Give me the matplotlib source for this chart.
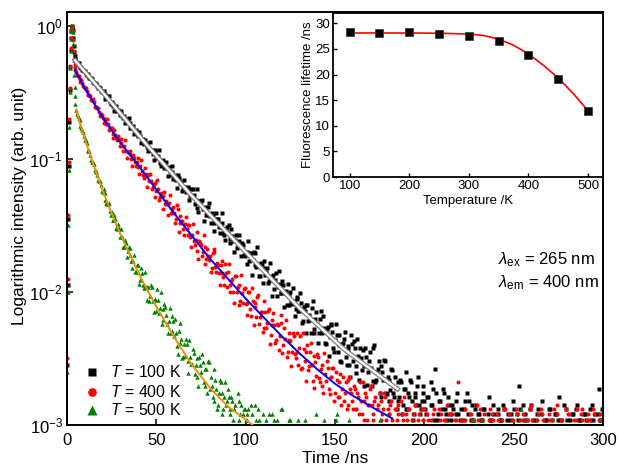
import numpy as np
import matplotlib
matplotlib.use("Agg")
import matplotlib.pyplot as plt
import matplotlib.patheffects as pe
from matplotlib.ticker import NullLocator

plt.rcParams['font.family'] = ['Liberation Sans', 'DejaVu Sans']
plt.rcParams['mathtext.fontset'] = 'custom'
plt.rcParams['mathtext.rm'] = 'Liberation Sans'
plt.rcParams['mathtext.it'] = 'Liberation Sans:italic'
plt.rcParams['mathtext.bf'] = 'Liberation Sans:bold'

# ---------------- data (log10 of normalised intensity) ----------------
# rise / peak region, channels 0 .. 4.75 ns every 0.25 ns
early_time_ns = np.arange(0, 5, 0.25)
log_i_100K_early = [-3.30, -2.55, -1.95, -1.45, -1.05, -0.72, -0.48, -0.31, -0.18, -0.09,
                    -0.04, -0.01, 0.00, -0.03, -0.09, -0.15, -0.20, -0.23, -0.25, -0.26]
log_i_400K_early = [-3.20, -2.50, -1.90, -1.42, -1.02, -0.70, -0.47, -0.30, -0.17, -0.09,
                    -0.03, -0.01, 0.00, -0.04, -0.11, -0.19, -0.25, -0.29, -0.31, -0.33]
log_i_500K_early = [-3.25, -2.60, -2.00, -1.50, -1.08, -0.76, -0.50, -0.32, -0.19, -0.10,
                    -0.04, -0.01, 0.00, -0.05, -0.14, -0.26, -0.37, -0.46, -0.53, -0.59]

# decay region, channels 5, 6, ..., 300 ns
log_i_100K = [
    -0.27, -0.28, -0.31, -0.32, -0.33, -0.34, -0.37, -0.38, -0.39, -0.40, -0.43, -0.44, -0.45, -0.46, -0.49, -0.50,
    -0.51, -0.54, -0.54, -0.57, -0.57, -0.60, -0.61, -0.64, -0.64, -0.66, -0.68, -0.68, -0.72, -0.72, -0.73, -0.77,
    -0.75, -0.79, -0.80, -0.83, -0.83, -0.85, -0.89, -0.88, -0.89,
    -0.93, -0.93, -0.96, -0.93, -0.98, -0.98, -1.03, -1.02, -1.02, -1.06, -1.07, -1.06, -1.12, -1.10, -1.13, -1.16,
    -1.12, -1.18, -1.18, -1.23, -1.21, -1.24, -1.22, -1.28, -1.28,
    -1.27, -1.31, -1.37, -1.32, -1.32, -1.38, -1.37, -1.42, -1.36, -1.43, -1.41, -1.48, -1.45, -1.45, -1.51,
    -1.51, -1.48, -1.57, -1.53, -1.56, -1.60, -1.53, -1.62, -1.61, -1.67, -1.62, -1.66, -1.63, -1.72, -1.70,
    -1.70, -1.77, -1.71, -1.76, -1.71, -1.81, -1.79, -1.88, -1.79, -1.82, -1.87, -1.82, -1.92, -1.90, -1.89,
    -1.98, -1.86, -1.96, -1.94, -2.01, -1.95, -2.01, -2.10, -2.02, -2.00, -2.09, -2.07, -2.13, -2.04, -2.14,
    -2.08, -2.22, -2.14, -2.10, -2.22, -2.21, -2.12, -2.31, -2.20, -2.24, -2.31, -2.14, -2.31, -2.27, -2.39,
    -2.26, -2.34, -2.25, -2.42, -2.36, -2.32, -2.40, -2.52, -2.39, -2.35,
    -2.49, -2.43, -2.55, -2.32, -2.52, -2.42, -2.61, -2.48, -2.42, -2.59, -2.56, -2.42, -2.70, -2.52, -2.57,
    -2.67, -2.40, -2.66, -2.58, -2.76, -2.56, -2.66, -2.52, -2.77, -2.66, -2.74, -2.59, -2.79, -2.72, -2.68,
    -2.79, -2.68, -2.85, -2.73, -2.88, -2.76, -2.66, -2.82, -2.92, -2.79, -2.71, -2.85, -2.88, -2.76, -2.82,
    -2.92, -2.79, -3.01, -2.85, -2.73, -2.58, -2.96, -2.82, -3.06, -2.88, -2.76, -2.92, -3.01, -2.85, -2.96,
    -2.88, -3.12, -2.82, -2.92, -2.96,
    -3.01, -2.88, -3.06, -2.76, -2.82, -2.96, -3.12, -3.01, -2.85, -2.92, -3.06, -2.96, -2.88, -3.19, -3.01,
    -2.79, -2.96, -3.06, -2.92, -3.01, -2.88, -3.12, -2.96, -2.85, -3.06, -3.01, -2.92, -2.96, -3.19, -2.88,
    -3.06, -2.92, -2.71, -3.12, -2.85, -2.96, -3.06, -3.01, -2.88, -3.19, -2.96, -3.06, -2.92, -3.01, -3.12,
    -2.82, -3.01, -2.96, -3.06, -2.88, -3.12, -3.01, -2.92, -3.06, -2.96, -3.19, -3.01, -2.85, -3.06, -2.96,
    -3.01, -3.12, -2.92, -3.06, -2.88, -3.01, -2.96, -3.19, -3.06, -2.92, -3.01, -3.12, -2.96, -2.85, -3.06,
    -3.01, -2.92, -2.73, -2.96, -2.88,
]
# interleaved channels 5.5, 6.5, ..., 299.5 ns
log_i_100K_b = [
    -0.29, -0.28, -0.31, -0.33, -0.34, -0.36, -0.36, -0.39, -0.39, -0.42, -0.43, -0.44, -0.47, -0.47, -0.50,
    -0.49, -0.55, -0.53, -0.53, -0.59, -0.59, -0.64, -0.60, -0.63, -0.67, -0.64, -0.69, -0.73, -0.70, -0.69,
    -0.77, -0.76, -0.81, -0.78, -0.82, -0.80, -0.88, -0.85, -0.86, -0.91,
    -0.94, -0.87, -0.93, -1.01, -0.94, -0.99, -0.93, -1.05, -1.01, -1.07, -1.02, -1.13, -1.09, -1.05, -1.15,
    -1.12, -1.22, -1.14, -1.17, -1.24, -1.16, -1.25, -1.21, -1.31, -1.23,
    -1.23, -1.34, -1.23, -1.40, -1.32, -1.31, -1.47, -1.36, -1.42, -1.33, -1.48, -1.43, -1.54, -1.41, -1.45,
    -1.56, -1.41, -1.56, -1.61, -1.51, -1.50, -1.63, -1.58, -1.70, -1.57, -1.65, -1.57, -1.73, -1.65, -1.73,
    -1.79, -1.62, -1.71, -1.87, -1.70, -1.80, -1.66, -1.88, -1.78, -1.93, -1.77, -1.85, -1.93, -1.78, -2.03,
    -1.87, -1.91, -2.03, -1.84, -2.01, -1.92, -2.11, -1.99, -1.94, -2.10, -2.07, -1.97, -2.18, -2.05, -2.14,
    -2.01, -2.23, -2.11, -2.31, -2.10, -2.17, -2.31, -2.07, -2.28, -2.15, -2.38, -2.20, -2.30, -2.18, -2.38,
    -2.28, -2.48, -2.24, -2.30, -2.45, -2.24, -2.45, -2.32, -2.53, -2.38,
    -2.30, -2.55, -2.41, -2.64, -2.39, -2.37, -2.56, -2.35, -2.66, -2.50, -2.44, -2.71, -2.49, -2.60, -2.45,
    -2.71, -2.42, -2.68, -2.60, -2.52, -2.79, -2.60, -2.51, -2.76, -2.64, -2.82, -2.58, -2.76, -2.64, -2.88,
    -2.82, -2.66, -2.92, -2.73, -2.60, -2.88, -2.79, -2.68, -2.96, -2.76, -2.85, -2.64, -2.92, -2.82, -2.71,
    -2.88, -2.79, -3.01, -2.68, -2.85, -2.96, -2.76, -2.92, -2.82, -3.06, -2.73, -2.88, -2.96, -2.79, -2.92,
    -2.85, -3.01, -2.92, -2.76, -3.06, -2.88, -2.96, -2.82, -3.01, -2.92, -3.12, -2.85, -2.96, -2.88, -3.06, -2.92,
    -2.96, -3.06, -2.88, -3.01, -2.92, -3.12, -2.96, -2.85, -3.01, -3.06,
    -2.92, -2.96, -3.19, -2.88, -3.01, -2.96, -3.06, -2.92, -2.82, -3.01,
    -3.12, -2.96, -2.88, -3.06, -3.01, -2.92, -2.96, -3.12, -2.85, -3.01,
    -3.06, -2.96, -2.88, -3.01, -2.92, -3.06, -2.96, -3.12, -3.01, -2.88,
    -2.96, -3.06, -2.92, -3.01, -2.79, -2.96, -3.06, -3.01, -2.88, -3.12,
    -2.96, -2.92, -3.01, -3.06, -2.85, -2.96, -3.01, -3.12, -2.92, -2.96,
    -3.06, -2.88, -3.01, -2.96, -2.92, -3.06, -3.01, -2.96, -2.88,
]
log_i_400K = [
    -0.35, -0.38, -0.40, -0.41, -0.45, -0.47,
    -0.49, -0.52, -0.53, -0.56, -0.57, -0.61, -0.62, -0.65, -0.66, -0.69,
    -0.71, -0.74, -0.74, -0.77, -0.77, -0.81, -0.82, -0.86, -0.85, -0.88,
    -0.90, -0.90, -0.94, -0.95, -0.96, -1.00, -0.97, -1.02, -1.02, -1.06,
    -1.05, -1.09, -1.14, -1.11, -1.12, -1.17, -1.17, -1.21, -1.18, -1.24,
    -1.23, -1.29, -1.28, -1.28, -1.34, -1.34, -1.33, -1.41, -1.38, -1.41,
    -1.45, -1.38, -1.48, -1.47, -1.53, -1.49, -1.53, -1.50, -1.59, -1.57,
    -1.62, -1.61, -1.69, -1.62, -1.65, -1.70, -1.66, -1.75, -1.73, -1.73,
    -1.82, -1.70, -1.81, -1.78, -1.86, -1.80, -1.86, -1.95, -1.86, -1.85,
    -1.95, -1.92, -2.00, -1.88, -2.00, -1.95, -2.07, -2.01, -1.98, -2.09,
    -2.08, -2.00, -2.18, -2.07, -2.11, -2.19, -2.02, -2.19, -2.15, -2.27,
    -2.15, -2.23, -2.13, -2.32, -2.25, -2.25, -2.36, -2.25, -2.33, -2.23,
    -2.40, -2.35, -2.49, -2.31, -2.37, -2.45, -2.33, -2.50, -2.45, -2.42,
    -2.58, -2.31, -2.52, -2.45, -2.59, -2.45, -2.55, -2.72, -2.53, -2.47,
    -2.65, -2.58, -2.71, -2.46, -2.67, -2.57, -2.77, -2.64, -2.57, -2.76,
    -2.66, -2.79, -2.62, -2.73, -2.82, -2.68, -2.85, -2.64, -2.76, -2.88,
    -2.73, -2.88, -2.79, -2.68, -2.92, -2.82, -2.76, -2.96, -2.85, -2.71,
    -2.92, -2.82, -3.01, -2.85, -2.76, -2.96, -2.88, -2.79, -3.01, -2.92,
    -2.85, -2.96, -3.06, -2.88, -2.92, -3.01, -2.82, -2.96, -3.12, -2.92,
    -2.88, -3.01, -2.96, -3.06, -2.85, -3.01, -2.92, -3.12, -2.96, -2.88,
    -3.06, -2.96, -3.12, -3.01, -2.92, -3.19, -3.06, -2.88, -3.01, -3.12,
    -2.96, -3.06, -3.19, -2.92, -3.01, -3.06, -2.96, -3.12, -2.68, -3.01,
    -3.06, -3.19, -2.96, -3.01, -3.12, -2.92, -3.06, -3.01, -3.19, -2.96,
    -2.88, -3.12, -3.06, -3.01, -3.27, -2.96, -3.06, -2.92, -3.12, -3.01,
    -2.96, -3.19, -3.06, -3.01, -2.88, -3.12, -3.01, -3.06, -2.96, -3.19,
    -3.12, -2.92, -3.01, -3.06, -2.96, -3.27, -3.01, -3.12, -2.88, -3.06,
    -3.01, -3.12, -2.96, -3.06, -3.19, -2.92, -3.01, -3.06, -3.12, -2.96,
    -3.01, -3.19, -3.06, -2.85, -3.12, -3.01, -2.96, -3.06, -3.19, -3.01,
    -2.92, -3.06, -3.12, -3.01, -2.96, -3.19, -3.06, -2.88, -3.01, -3.12,
    -2.96, -3.06, -3.01, -3.19, -2.92, -3.06, -3.01, -3.12, -2.96, -3.01,
]
log_i_400K_b = [
    -0.37, -0.38, -0.42, -0.43, -0.46,
    -0.47, -0.52, -0.52, -0.56, -0.55, -0.61, -0.61, -0.62, -0.68, -0.67,
    -0.73, -0.70, -0.70, -0.78, -0.77, -0.84, -0.78, -0.84, -0.83, -0.90,
    -0.85, -0.94, -0.86, -0.99, -0.95, -0.94, -1.05, -0.99, -1.05, -0.99,
    -1.11, -1.01, -1.12, -1.07, -1.21, -1.12, -1.11, -1.23, -1.19, -1.29,
    -1.16, -1.31, -1.26, -1.38, -1.25, -1.32, -1.42, -1.27, -1.41, -1.36,
    -1.48, -1.35, -1.55, -1.43, -1.47, -1.57, -1.44, -1.57, -1.50, -1.66,
    -1.49, -1.65, -1.55, -1.75, -1.63, -1.73, -1.57, -1.79, -1.68, -1.76,
    -1.85, -1.71, -1.68, -1.85, -1.80, -1.95, -1.77, -1.89, -1.79, -1.96,
    -1.79, -2.00, -1.90, -2.08, -1.88, -1.96, -2.10, -1.87, -2.08, -1.97,
    -2.17, -2.00, -2.13, -1.97, -2.25, -2.08, -2.04, -2.24, -2.15, -2.30,
    -2.07, -2.27, -2.14, -2.39, -2.21, -2.16, -2.38, -2.24, -2.44, -2.17,
    -2.46, -2.27, -2.21, -2.45, -2.36, -2.56, -2.31, -2.47, -2.31, -2.55,
    -2.33, -2.57, -2.43, -2.67, -2.40, -2.56, -2.38, -2.67, -2.48, -2.63,
    -2.49, -2.68, -2.55, -2.76, -2.62, -2.52, -2.73, -2.64, -2.57, -2.82,
    -2.60, -2.79, -2.68, -2.85, -2.64, -2.76, -2.88, -2.66, -2.73, -2.82,
    -2.71, -2.88, -2.76, -2.92, -2.82, -2.68, -2.96, -2.79, -2.85, -2.73,
    -2.85, -2.96, -2.79, -2.88, -3.01, -2.82, -2.92, -2.76, -2.96, -2.88,
    -2.92, -2.82, -3.01, -2.88, -2.96, -2.85, -3.06, -2.92, -2.79, -3.01,
    -2.96, -2.88, -3.06, -2.92, -2.85, -3.01, -2.96, -3.12, -2.88, -2.96,
    -3.01, -2.92, -3.12, -2.96, -3.06, -2.88, -3.01, -3.19, -2.96, -2.92,
    -3.06, -2.96, -2.85, -3.12, -3.01, -2.92, -3.06, -2.96, -3.19, -3.01,
    -2.96, -3.06, -2.88, -3.01, -3.12, -2.92, -2.96, -3.06, -3.01, -2.85,
    -3.12, -3.01, -2.96, -2.92, -3.06, -3.19, -2.88, -3.01, -2.96, -3.06,
    -2.92, -3.01, -3.12, -2.96, -2.88, -3.06, -3.01, -2.92, -3.19, -2.96,
    -3.01, -2.88, -3.06, -2.96, -3.12, -2.92, -3.01, -2.96, -3.06, -2.85,
    -2.96, -3.12, -3.01, -2.92, -3.06, -2.88, -2.96, -3.01, -3.19, -2.92,
    -3.06, -2.96, -2.88, -3.01, -2.92, -3.12, -2.96, -3.06, -3.01, -2.88,
    -2.92, -3.01, -3.06, -2.96, -3.12, -2.88, -3.01, -2.92, -2.96, -3.06,
    -3.01, -2.92, -2.96, -3.06, -2.88, -3.01, -3.12, -2.96, -2.92, -3.01,
]
log_i_500K = [
    -0.63, -0.68, -0.71, -0.77, -0.80, -0.86,
    -0.88, -0.94, -0.97, -1.02, -1.04,
    -1.10, -1.12, -1.17, -1.20, -1.25,
    -1.26, -1.33, -1.34, -1.39, -1.40,
    -1.46, -1.45, -1.53, -1.52, -1.58,
    -1.59, -1.66, -1.63, -1.69, -1.67, -1.77, -1.77, -1.85, -1.80, -1.85,
    -1.91, -1.86, -1.97, -1.96, -1.96, -2.07, -1.95, -2.07, -2.06, -2.14,
    -2.06, -2.12, -2.24, -2.13, -2.11, -2.24, -2.22, -2.31, -2.18, -2.33,
    -2.31, -2.47, -2.38, -2.35, -2.49, -2.48, -2.39, -2.61, -2.49, -2.54,
    -2.46, -2.55, -2.64, -2.49, -2.60, -2.53, -2.71, -2.58, -2.52, -2.73,
    -2.71, -2.82, -2.66, -2.88, -2.76, -2.68, -2.92, -2.79, -2.85, -2.73,
    -2.88, -2.79, -2.96, -2.85, -3.01, -2.82, -2.92, -3.06, -2.88, -2.96,
    -2.92, -3.06, -2.85, -3.01, -3.12, -2.96, -2.88, -3.06, -3.01, -3.19,
    -3.01, -3.12, -2.92, -3.19, -3.06, -2.96, -3.27, -3.01, -3.12, -2.88, -3.06, -3.19, -3.01, -3.12, -2.96,
    -3.12, -3.27, -3.01, -3.19, -3.06, -3.36, -3.12, -2.96, -3.19, -3.27, -3.06, -3.12, -3.01, -3.19, -3.27,
    -3.12, -3.06, -3.19, -2.96, -3.12, -3.27, -3.01, -3.19, -3.06, -3.12, -2.92, -3.19, -3.27, -3.01, -3.12,
    -3.19, -3.06, -2.96, -3.27, -3.12,
    -3.27, -3.12, -3.36, -3.19, -3.01, -3.27, -3.19, -3.49, -3.12, -3.27, -3.19, -3.06, -3.36, -3.27, -2.96,
    -3.19, -3.27, -3.12, -3.36, -3.19,
    -3.19, -3.36, -3.27, -3.06, -3.19, -3.49, -3.27, -3.12, -3.01, -3.27, -3.36, -3.19, -3.27, -3.12, -3.36,
    -3.19, -3.06, -3.27, -3.36, -3.19,
    -3.27, -3.12, -3.36, -3.19, -3.27, -3.49, -3.01, -3.19, -3.36, -3.27, -3.12, -3.27, -3.19, -3.36, -3.06,
    -3.27, -3.19, -3.49, -3.27, -3.12,
    -3.36, -3.19, -3.27, -3.12, -3.27, -3.36, -3.19, -2.96, -3.27, -3.19, -3.36, -3.12, -3.27, -3.49, -3.19,
    -3.27, -3.06, -3.36, -3.19, -3.27,
    -3.19, -3.36, -3.12, -3.27, -3.01, -3.27, -3.19, -3.36, -3.27, -3.12, -3.49, -3.19, -3.27, -2.88, -3.36,
    -3.19, -3.27, -3.12, -3.36, -3.27,
    -3.27, -3.12, -3.36, -3.19, -3.27, -3.06, -3.36, -3.01, -3.27, -3.19, -3.49, -3.12, -3.27, -3.36, -3.19,
    -3.27, -3.12, -3.36, -3.19, -3.27,
    -3.19, -3.36, -3.27, -3.12, -3.36, -3.19, -3.27, -3.06, -3.27, -3.49, -3.19, -3.36, -3.01, -3.27, -3.12,
    -3.36, -3.19, -3.27, -2.96, -3.19,
]
log_i_500K_b = [
    -0.66, -0.69, -0.75, -0.78, -0.83,
    -0.86, -0.93, -0.94, -1.01, -1.02,
    -1.08, -1.09, -1.16, -1.17, -1.24,
    -1.23, -1.31, -1.34, -1.33, -1.42,
    -1.46, -1.42, -1.52, -1.49, -1.59,
    -1.53, -1.66, -1.61, -1.74, -1.66, -1.72, -1.82, -1.72, -1.84, -1.80,
    -1.94, -1.82, -1.95, -1.85, -2.06, -1.96, -2.03, -1.96, -2.15, -2.05,
    -1.98, -2.16, -2.00, -2.21, -2.09, -2.17, -2.31, -2.12, -2.29, -2.22,
    -2.20, -2.41, -2.29, -2.23, -2.50, -2.39, -2.35, -2.52, -2.36, -2.54,
    -2.43, -2.62, -2.50, -2.71, -2.55, -2.47, -2.68, -2.58, -2.76, -2.53,
    -2.64, -2.79, -2.58, -2.73, -2.85, -2.66, -2.76, -2.88, -2.68, -2.82,
    -2.79, -2.92, -2.82, -2.88, -3.01, -2.76, -2.96, -2.85, -2.92, -2.88,
    -2.96, -2.88, -3.06, -2.92, -3.01, -2.85, -3.12, -2.96, -3.01, -2.92,
    -3.06, -2.96, -3.19, -3.01, -2.92, -3.12, -3.06, -2.96, -3.27, -3.01, -2.88, -3.12, -3.06, -3.19, -2.96,
    -3.12, -3.01, -3.27, -3.19, -2.96, -3.06, -3.36, -3.12, -3.19, -3.01, -3.27, -3.06, -3.12, -3.19, -2.92,
    -3.27, -3.12, -3.06, -3.19, -3.36, -3.01, -3.12, -3.27, -3.19, -3.06, -2.96, -3.19, -3.27, -3.12, -3.01,
    -3.36, -3.19, -3.06, -3.27, -3.12,
    -3.19, -3.36, -3.12, -3.27, -3.49, -3.19, -3.01, -3.27, -3.36, -3.19, -3.27, -3.12, -3.36, -3.19, -3.06,
    -3.27, -3.49, -3.19, -3.27, -3.12,
    -3.27, -3.19, -3.36, -3.06, -3.27, -3.12, -3.49, -3.19, -3.27, -3.36, -3.19, -3.01, -3.27, -3.12, -3.36,
    -3.27, -3.19, -3.49, -3.12, -3.27,
    -3.36, -3.19, -3.27, -3.12, -3.01, -3.36, -3.19, -3.27, -3.49, -3.19, -3.12, -3.27, -3.36, -3.06, -3.19,
    -3.27, -3.12, -3.36, -3.19, -3.27,
    -3.12, -3.27, -3.19, -3.36, -3.27, -3.06, -3.19, -3.49, -3.27, -3.12, -3.36, -3.19, -2.96, -3.27, -3.19,
    -3.36, -3.12, -3.27, -3.19, -3.36,
    -3.27, -3.12, -3.36, -3.19, -3.49, -3.27, -3.06, -3.19, -3.36, -3.12, -3.27, -3.01, -3.19, -3.36, -3.27,
    -3.12, -3.49, -3.19, -3.27, -3.06,
    -3.19, -3.36, -3.27, -3.12, -3.27, -3.19, -3.01, -3.36, -3.19, -3.27, -3.12, -3.49, -3.27, -3.19, -3.36,
    -3.06, -3.27, -3.12, -3.19, -3.36,
    -3.27, -3.19, -3.06, -3.36, -3.12, -3.27, -3.49, -3.19, -3.27, -3.01, -3.36, -3.19, -3.12, -3.27, -3.36,
    -3.19, -3.27, -3.06, -3.19, -3.27,
]

# fitted curves (log10 intensity)
fit_100K_t = [4.5, 20, 45, 70, 100, 130, 155, 185]
fit_100K_v = [-0.26, -0.50, -0.90, -1.28, -1.70, -2.12, -2.43, -2.73]
fit_400K_t = [4.5, 10, 20, 30, 40, 50, 60, 70, 80, 90, 100, 110, 120, 130, 140, 150, 160, 170, 182]
fit_400K_v = [-0.33, -0.47, -0.69, -0.88, -1.05, -1.23, -1.41, -1.58, -1.75, -1.90, -2.05,
              -2.19, -2.33, -2.46, -2.58, -2.69, -2.78, -2.86, -2.95]
fit_500K_t = [5, 10, 15, 20, 25, 30, 40, 50, 60, 70, 80, 90, 100, 104]
fit_500K_v = [-0.63, -0.85, -1.05, -1.24, -1.41, -1.57, -1.86, -2.11, -2.34, -2.55, -2.72,
              -2.86, -2.96, -3.00]

# inset: lifetime vs temperature
temperature_K = [100, 150, 200, 250, 300, 350, 400, 450, 500]
lifetime_ns = [28.3, 28.1, 28.2, 28.0, 27.6, 26.5, 23.9, 19.1, 12.8]
fit_temp_K = [100, 150, 200, 250, 300, 325, 350, 375, 400, 425, 450, 475, 500]
fit_lifetime = [28.1, 28.1, 28.1, 28.05, 27.9, 27.6, 26.9, 25.7, 24.0, 21.8, 19.3, 16.3, 12.9]

legend_labels = ['$T$ = 100 K', '$T$ = 400 K', '$T$ = 500 K']

# ---------------- figure ----------------
fig = plt.figure(figsize=(6.19, 4.68), dpi=100)
ax = fig.add_axes([67 / 619, 1 - 425 / 468, 536 / 619, 413 / 468])


def full_series(early, main, half):
    t = np.concatenate([early_time_ns,
                        5 + np.arange(len(main), dtype=float),
                        5.5 + np.arange(len(half), dtype=float)])
    v = np.concatenate([np.asarray(early, float), np.asarray(main, float),
                        np.asarray(half, float)])
    return t, 10 ** v


for early, main, half, mk, ms, col in [
        (log_i_100K_early, log_i_100K, log_i_100K_b, 's', 2.5, '#000000'),
        (log_i_400K_early, log_i_400K, log_i_400K_b, 'o', 2.9, '#FF0000'),
        (log_i_500K_early, log_i_500K, log_i_500K_b, '^', 3.2, '#008000')]:
    t, y = full_series(early, main, half)
    ax.plot(t, y, ls='none', marker=mk, ms=ms, mec='none', mfc=col, zorder=2)

ax.plot(fit_100K_t, 10 ** np.array(fit_100K_v), color='white', lw=1.6, zorder=4,
        path_effects=[pe.Stroke(linewidth=3.4, foreground='#7c7c7c'), pe.Normal()])
ax.plot(fit_400K_t, 10 ** np.array(fit_400K_v), color='#0000FF', lw=1.4, zorder=4)
ax.plot(fit_500K_t, 10 ** np.array(fit_500K_v), color='#E8920A', lw=1.4, zorder=4)

ax.set_yscale('log')
ax.set_xlim(0, 300)
ax.set_ylim(1e-3, 1.27)
ax.yaxis.set_minor_locator(NullLocator())
ax.set_yticks([1e-3, 1e-2, 1e-1, 1])
ax.set_xticks([0, 50, 100, 150, 200, 250, 300])
ax.tick_params(axis='both', direction='in', length=4, width=1.1, labelsize=12,
               top=False, right=False)
ax.tick_params(axis='x', pad=6)
ax.tick_params(axis='y', pad=3)
for s in ax.spines.values():
    s.set_linewidth(1.4)

ax.set_xlabel('Time /ns', fontsize=12.5, va='center')
ax.xaxis.set_label_coords(0.5, -0.082)
ax.set_ylabel('Logarithmic intensity (arb. unit)', fontsize=12.5, va='center')
ax.yaxis.set_label_coords(-0.088, 0.53)

ax.text(0.804, 0.40, r'$\lambda_{\mathrm{ex}}$ = 265 nm', transform=ax.transAxes,
        fontsize=12, va='center', ha='left')
ax.text(0.804, 0.344, r'$\lambda_{\mathrm{em}}$ = 400 nm', transform=ax.transAxes,
        fontsize=12, va='center', ha='left')

# legend drawn by hand
for yf, mk, ms, col, lab in [(0.1295, 's', 6.0, '#000000', legend_labels[0]),
                             (0.081, 'o', 6.2, '#FF0000', legend_labels[1]),
                             (0.036, '^', 6.5, '#008000', legend_labels[2])]:
    ax.plot([0.047], [yf], marker=mk, ms=ms, mec='none', mfc=col, ls='none',
            transform=ax.transAxes, zorder=5)
    ax.text(0.080, yf, lab, transform=ax.transAxes, fontsize=11.5, va='center', ha='left')

# ---------------- inset ----------------
axin = fig.add_axes([333 / 619, 1 - 177 / 468, 270 / 619, 164 / 468])
axin.plot(fit_temp_K, fit_lifetime, color='#FF0000', lw=1.2, zorder=2)
axin.plot(temperature_K, lifetime_ns, ls='none', marker='s', ms=6, mec='#333333',
          mew=0.5, mfc='black', zorder=3)
axin.set_xlim(72, 525)
axin.set_ylim(0, 32)
axin.set_xticks([100, 200, 300, 400, 500])
axin.set_yticks([0, 5, 10, 15, 20, 25, 30])
axin.tick_params(axis='both', direction='in', length=3, width=1.0, labelsize=9.5, pad=2,
                 top=False, right=False)
for s in axin.spines.values():
    s.set_linewidth(1.3)
axin.set_xlabel('Temperature /K', fontsize=9.5, va='center')
axin.xaxis.set_label_coords(0.5, -0.146)
axin.set_ylabel('Fluorescence lifetime /ns', fontsize=9.5, va='center')
axin.yaxis.set_label_coords(-0.093, 0.5)

fig.savefig('out.png', dpi=100)
